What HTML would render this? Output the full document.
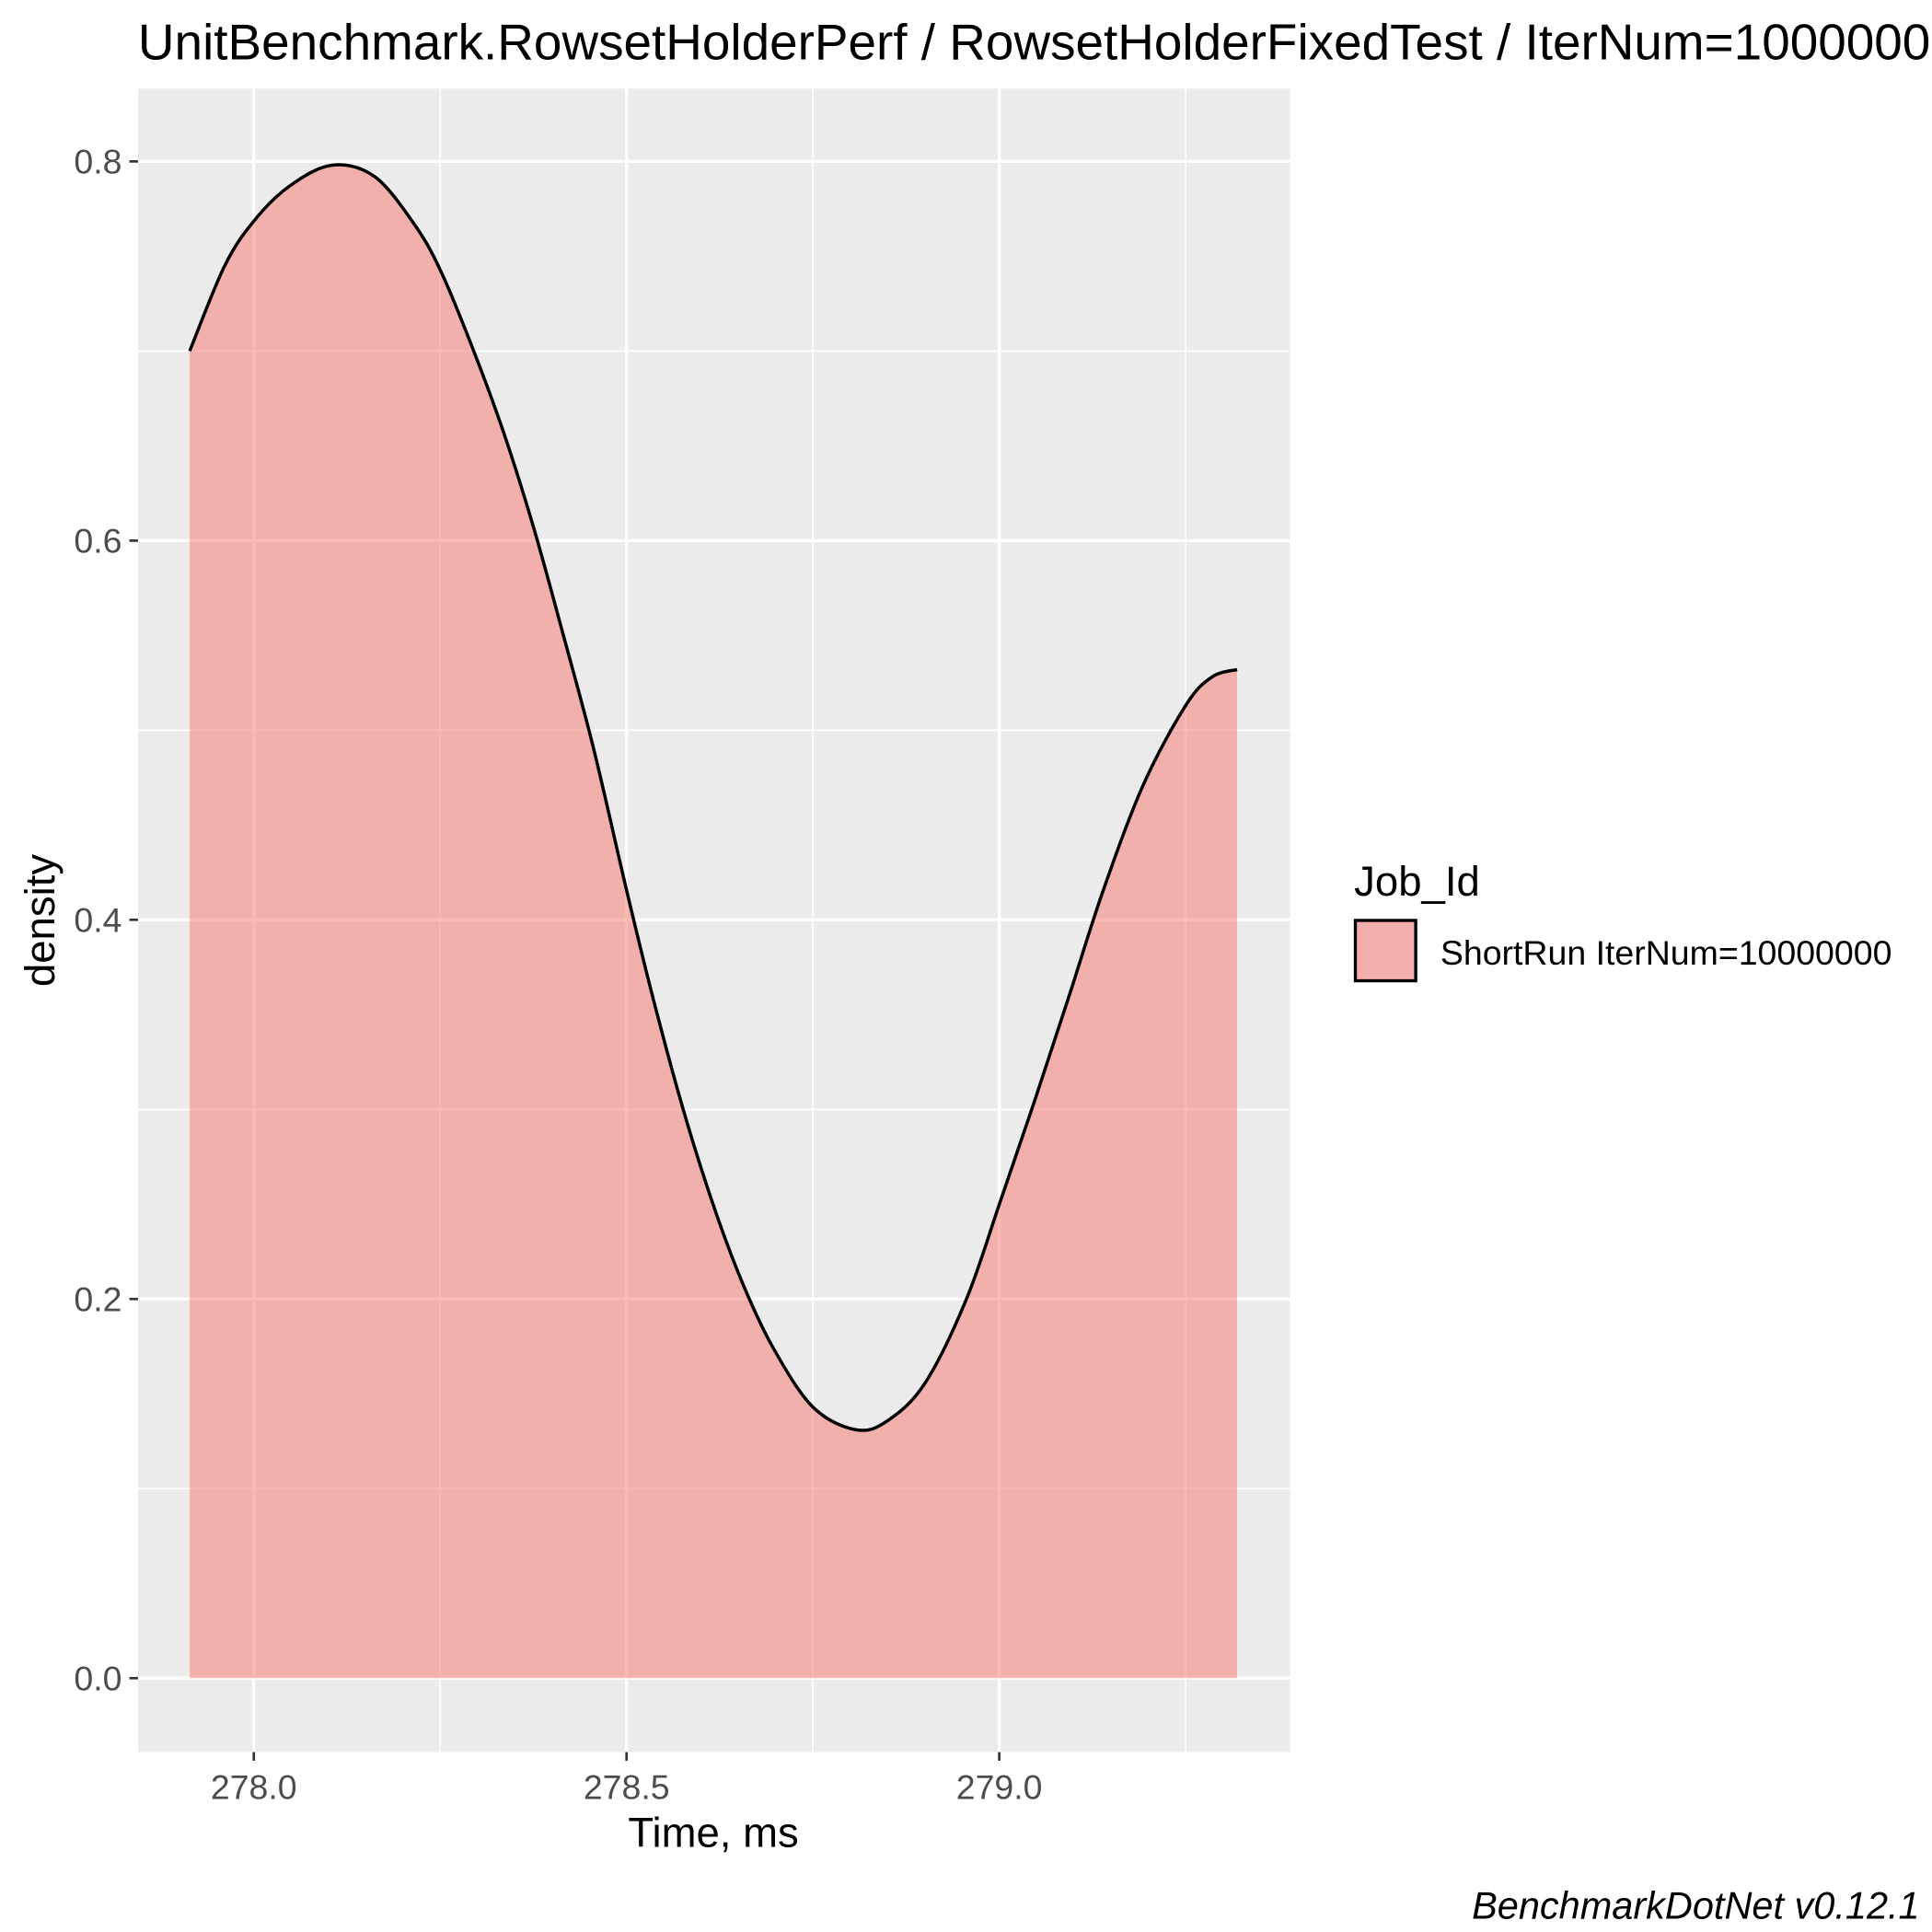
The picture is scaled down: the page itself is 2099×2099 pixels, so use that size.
<!DOCTYPE html>
<html><head><meta charset="utf-8"><style>
html,body{margin:0;padding:0;background:#fff;}
svg{display:block;}
text{font-family:"Liberation Sans",Arial,sans-serif;}
</style></head><body>
<svg id="chart" width="2099" height="2099" viewBox="0 0 1568 1568" xmlns="http://www.w3.org/2000/svg">
<rect width="1568" height="1568" fill="#fff"/>
<text x="112" y="48" font-size="41" fill="#000">UnitBenchmark.RowsetHolderPerf / RowsetHolderFixedTest / IterNum=10000000</text>
<rect x="112" y="72" width="935" height="1350" fill="#ebebeb"/>
<g id="grid"></g>
<g id="series"></g>
<g id="axes"></g>
<text x="579" y="1499" font-size="34" text-anchor="middle">Time, ms</text>
<text transform="translate(44,747) rotate(-90)" font-size="34" text-anchor="middle">density</text>
<text x="1099" y="727" font-size="34">Job_Id</text>
<rect x="1100" y="747" width="49" height="49" fill="#f1aeac" stroke="#000" stroke-width="2.5"/>
<text x="1169" y="783" font-size="28">ShortRun IterNum=10000000</text>
<text x="1558" y="1557" font-size="31" font-style="italic" text-anchor="end">BenchmarkDotNet v0.12.1</text>
</svg>
<script>
const xTicks=[278.0,278.5,279.0];
const xMinor=[277.75,278.25,278.75,279.25];
const yTicks=[0.0,0.2,0.4,0.6,0.8];
const yMinor=[0.1,0.3,0.5,0.7];
const timeValues=[277.914,277.961,278.001,278.048,278.105,278.162,278.215,278.251,278.295,278.336,278.376,278.416,278.456,278.501,278.536,278.576,278.616,278.656,278.697,278.75,278.808,278.851,278.901,278.956,279.001,279.047,279.093,279.139,279.193,279.25,279.285,279.319];
const densityValues=[0.700,0.745,0.769,0.787,0.798,0.792,0.767,0.742,0.700,0.656,0.606,0.549,0.490,0.414,0.358,0.300,0.250,0.208,0.174,0.143,0.131,0.136,0.156,0.200,0.251,0.304,0.359,0.415,0.471,0.513,0.528,0.532];
const NS="http://www.w3.org/2000/svg";
function xs(v){return 206+(v-278.0)*605;}
function ys(v){return 1362-v*1538.75;}
function mk(tag,attrs,parent){const e=document.createElementNS(NS,tag);for(const k in attrs)e.setAttribute(k,attrs[k]);parent.appendChild(e);return e;}
const grid=document.getElementById('grid'),axes=document.getElementById('axes'),series=document.getElementById('series');
yMinor.forEach(v=>{const l=mk('line',{x1:112,x2:1047,y1:ys(v),y2:ys(v),stroke:'#fff','stroke-width':1.2},grid);

});
xMinor.forEach(v=>{const l=mk('line',{x1:xs(v),x2:xs(v),y1:72,y2:1422,stroke:'#fff','stroke-width':1.2},grid);

});
yTicks.forEach(v=>{const l=mk('line',{x1:112,x2:1047,y1:ys(v),y2:ys(v),stroke:'#fff','stroke-width':2.4},grid);


const t=mk('line',{x1:105,x2:112,y1:ys(v),y2:ys(v),stroke:'#333','stroke-width':2},axes);


const tx=mk('text',{x:99,y:ys(v)+10,'font-size':28,fill:'#4d4d4d','text-anchor':'end'},axes);tx.textContent=v.toFixed(1);

});
xTicks.forEach(v=>{const l=mk('line',{x1:xs(v),x2:xs(v),y1:72,y2:1422,stroke:'#fff','stroke-width':2.4},grid);


const t=mk('line',{x1:xs(v),x2:xs(v),y1:1422,y2:1429,stroke:'#333','stroke-width':2},axes);


const tx=mk('text',{x:xs(v),y:1460,'font-size':28,fill:'#4d4d4d','text-anchor':'middle'},axes);tx.textContent=v.toFixed(1);

});
const P=timeValues.map((t,i)=>[xs(t),ys(densityValues[i])]);
let d='M'+P[0][0]+','+P[0][1];
for(let i=0;i<P.length-1;i++){const p0=P[Math.max(i-1,0)],p1=P[i],p2=P[i+1],p3=P[Math.min(i+2,P.length-1)];
d+=' C'+(p1[0]+(p2[0]-p0[0])/6)+','+(p1[1]+(p2[1]-p0[1])/6)+' '+(p2[0]-(p3[0]-p1[0])/6)+','+(p2[1]-(p3[1]-p1[1])/6)+' '+p2[0]+','+p2[1];}
const last=P[P.length-1];
const area=mk('path',{d:d+' L'+last[0]+','+ys(0)+' L'+P[0][0]+','+ys(0)+' Z',fill:'#f8766d','fill-opacity':0.5},series);


const line=mk('path',{d:d,fill:'none',stroke:'#000','stroke-width':2.6},series);


</script>
</body></html>
